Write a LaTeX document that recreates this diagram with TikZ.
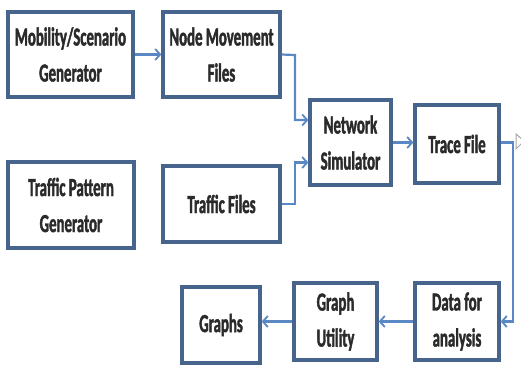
\documentclass[tikz,border=0pt]{standalone}
\usepackage{fontspec}
\setmainfont{Carlito}[FakeStretch=0.57,BoldFeatures={FakeBold=1.5}]
\usetikzlibrary{arrows.meta,calc}
\definecolor{boxc}{HTML}{46648C}
\definecolor{arrc}{HTML}{5A88C4}
\definecolor{txtc}{HTML}{2A2A2A}
\begin{document}
\begin{tikzpicture}[x=1pt,y=-1pt,
  box/.style={draw=boxc,line width=3.2pt,fill=white,inner sep=0pt,align=center,
    text=txtc,font=\fontsize{26}{36}\selectfont\bfseries},
  conn/.style={draw=arrc,line width=2.2pt,-{Straight Barb[length=5pt,width=11pt,line width=1.8pt]}}]
\useasboundingbox (0,0) rectangle (521,365);
\node[box,minimum width=125pt,minimum height=85pt] (mob) at (70.5,54.5) {Mobility/Scenario\\Generator};
\node[box,minimum width=117pt,minimum height=85pt] (nmf) at (221.5,54.5) {Node Movement\\Files};
\node[box,minimum width=81pt,minimum height=85pt] (ns) at (350.5,142.5) {Network\\Simulator};
\node[box,minimum width=84pt,minimum height=78pt] (tf) at (457,144) {Trace File};
\node[box,minimum width=126pt,minimum height=86pt] (tpg) at (71,205) {Traffic Pattern\\Generator};
\node[box,minimum width=117pt,minimum height=76pt] (tfi) at (221.5,204) {Traffic Files};
\node[box,minimum width=78pt,minimum height=76pt] (gr) at (221,325) {Graphs};
\node[box,minimum width=83pt,minimum height=77pt] (gu) at (335.5,321.5) {Graph\\Utility};
\node[box,minimum width=84pt,minimum height=77pt] (da) at (457,321.5) {Data for\\analysis};
\coordinate (j1) at (295,55);
\coordinate (j2) at (295,204);
\coordinate (j3) at (513,142.5);
\draw[conn] (mob.east) -- (nmf.west |- mob.east);
\draw[conn] (nmf.east) -- (j1) |- ($(ns.west)+(0,-22.5)$);
\draw[conn] (tfi.east) -- (j2) |- ($(ns.west)+(0,20)$);
\draw[conn] (ns.east) -- (tf.west |- ns.east);
\draw[conn] (tf.east |- j3) -- (j3) |- (da.east);
\draw[conn] (da.west) -- (gu.east);
\draw[conn] (gu.west) -- (gr.east |- gu.west);
\draw[gray!70,line width=1pt] (516,134) -- (524,141) -- (516,149) -- cycle;
\end{tikzpicture}
\end{document}
